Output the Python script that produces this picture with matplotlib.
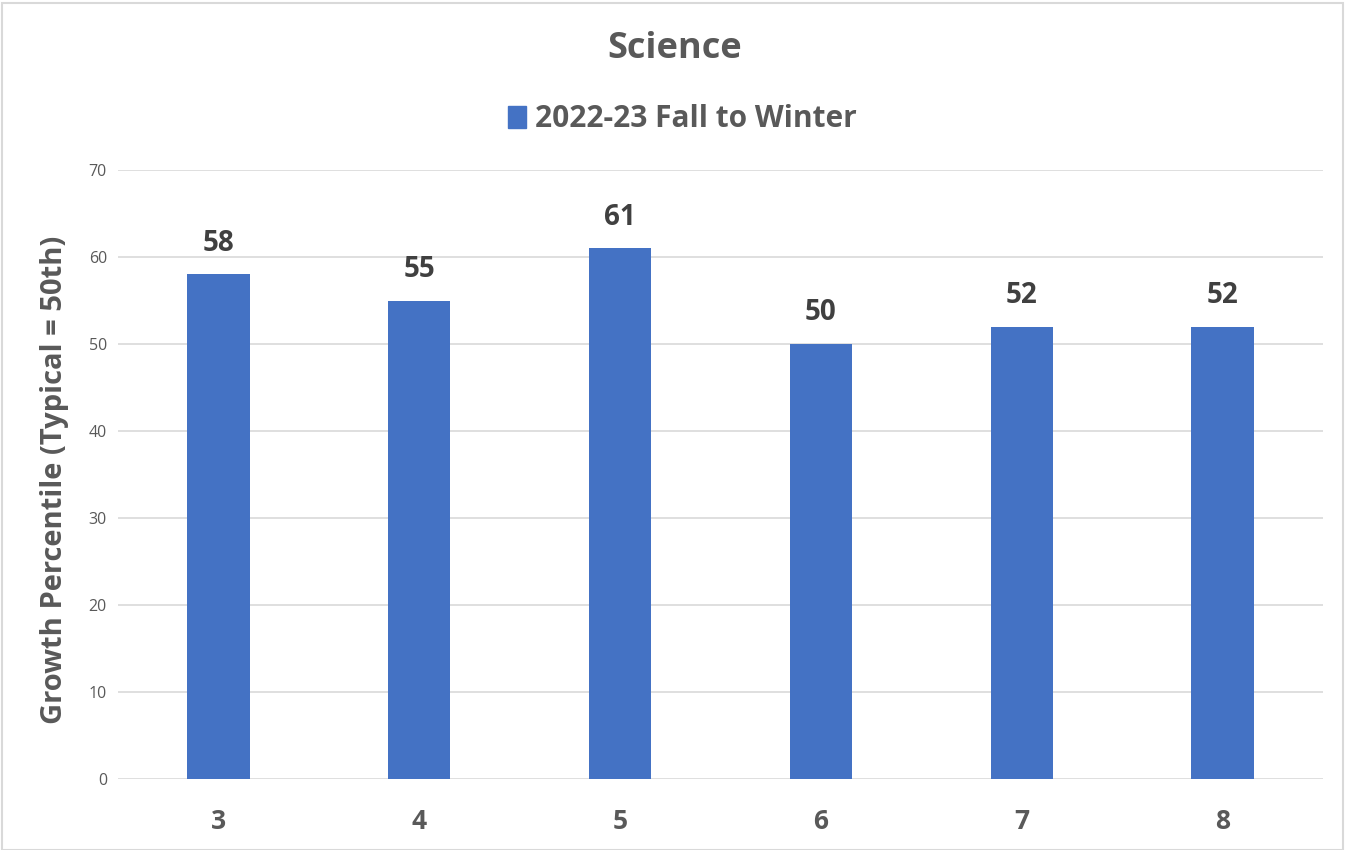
import matplotlib
matplotlib.use("Agg")
import matplotlib.pyplot as plt
from matplotlib.patches import Rectangle, Patch

grades = ["3", "4", "5", "6", "7", "8"]
values = [58, 55, 61, 50, 52, 52]
series_name = "2022-23 Fall to Winter"
title = "Science"
ylabel = "Growth Percentile (Typical = 50th)"
yticks = [0, 10, 20, 30, 40, 50, 60, 70]

plt.rcParams['font.family'] = ['Open Sans', 'DejaVu Sans']
txt = "#595959"
bar_color = "#4472C4"

fig = plt.figure(figsize=(13.47, 8.5), dpi=100)
ax = fig.add_axes([118/1347, 1-779/850, (1323-118)/1347, (779-170)/850])

x = list(range(len(grades)))
ax.bar(x, values, width=0.31, color=bar_color, zorder=3)
for xi, v in zip(x, values):
    ax.annotate(str(v), (xi, v), xytext=(0, 12), textcoords="offset points",
                ha="center", va="bottom", fontsize=20, fontweight="bold", color="#404040")

ax.set_xlim(-0.5, len(grades) - 0.5)
ax.set_ylim(0, 70)
ax.set_yticks(yticks)
ax.set_xticks(x)
ax.set_xticklabels(grades, fontsize=19, fontweight="bold", color=txt)
ax.tick_params(axis="x", length=0, pad=21)
ax.tick_params(axis="y", length=0, pad=8, labelsize=11.5, labelcolor=txt)
ax.grid(axis="y", color="#D9D9D9", linewidth=1.2, zorder=0)
for s in ax.spines.values():
    s.set_visible(False)
ax.set_ylabel(ylabel, fontsize=21, fontweight="bold", color=txt)
ax.yaxis.set_label_coords(-0.041, 0.491)

fig.text(675/1347, 1-49/850, title, ha="center", va="center", fontsize=26, fontweight="bold", color=txt)
leg = fig.legend(handles=[Patch(color=bar_color, label=series_name)], loc="center",
                 bbox_to_anchor=(682/1347, 1-119/850), frameon=False, fontsize=21.5,
                 handlelength=0.6, handleheight=0.75, handletextpad=0.3)
for t in leg.get_texts():
    t.set_color(txt)
    t.set_fontweight("bold")

fig.patches.append(Rectangle((2/1347, 0), 1341/1347, 1-3/850, transform=fig.transFigure,
                             fill=False, edgecolor="#D9D9D9", linewidth=1.5))

fig.savefig("out.png", dpi=100)
